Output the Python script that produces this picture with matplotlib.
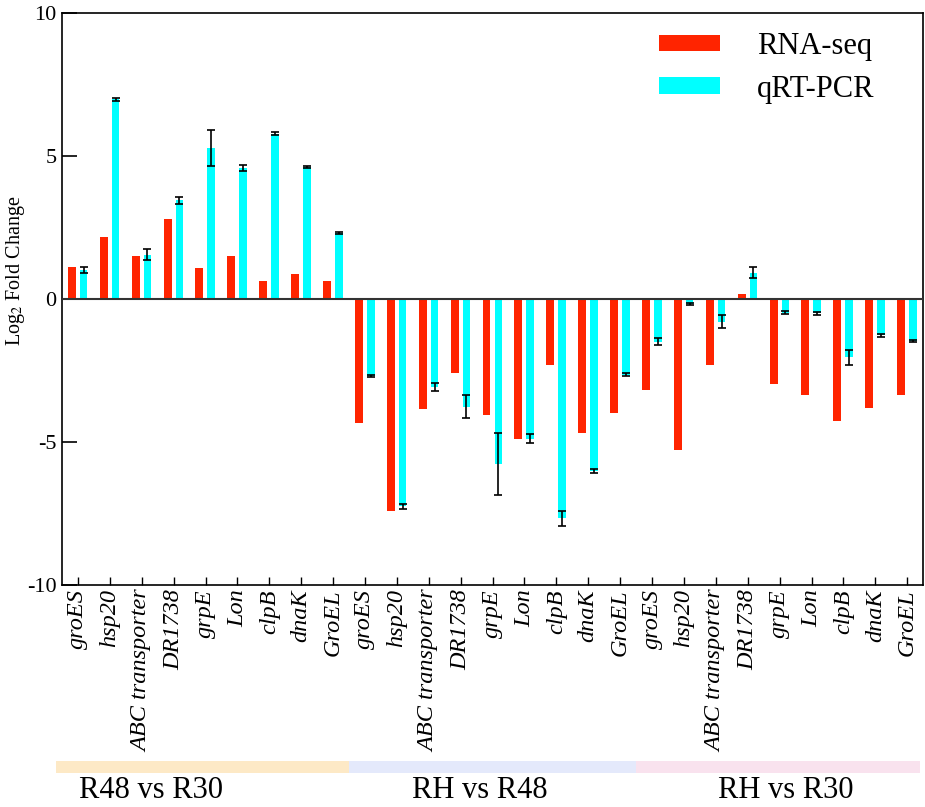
import matplotlib
matplotlib.use('Agg')
import matplotlib.pyplot as plt
import matplotlib.transforms as mtrans
from matplotlib.patches import Rectangle
import numpy as np

plt.rcParams['font.family'] = ['Liberation Serif', 'DejaVu Serif']
plt.rcParams['mathtext.fontset'] = 'stix'

genes = ['groES', 'hsp20', 'ABC transporter', 'DR1738', 'grpE', 'Lon', 'clpB', 'dnaK', 'GroEL']
groups = ['R48 vs R30', 'RH vs R48', 'RH vs R30']

# RNA-seq log2 fold change, per comparison
rna_r48_r30 = [1.13, 2.15, 1.51, 2.80, 1.07, 1.52, 0.63, 0.87, 0.63]
rna_rh_r48 = [-4.34, -7.41, -3.84, -2.59, -4.07, -4.88, -2.32, -4.68, -3.98]
rna_rh_r30 = [-3.19, -5.27, -2.32, 0.19, -2.98, -3.34, -4.26, -3.80, -3.34]

# qRT-PCR log2 fold change and error
pcr_r48_r30 = [1.01, 6.98, 1.55, 3.45, 5.27, 4.57, 5.78, 4.61, 2.31]
pcr_rh_r48 = [-2.70, -7.24, -3.07, -3.77, -5.76, -4.88, -7.66, -6.02, -2.64]
pcr_rh_r30 = [-1.49, -0.17, -0.80, 0.92, -0.48, -0.50, -2.03, -1.27, -1.47]
err_r48_r30 = [0.10, 0.05, 0.20, 0.13, 0.62, 0.10, 0.06, 0.04, 0.03]
err_rh_r48 = [0.03, 0.09, 0.13, 0.40, 1.09, 0.15, 0.26, 0.06, 0.04]
err_rh_r30 = [0.11, 0.04, 0.23, 0.20, 0.06, 0.06, 0.26, 0.05, 0.04]

rna = rna_r48_r30 + rna_rh_r48 + rna_rh_r30
pcr = pcr_r48_r30 + pcr_rh_r48 + pcr_rh_r30
err = err_r48_r30 + err_rh_r48 + err_rh_r30
labels = genes * 3

fig = plt.figure(figsize=(9.25, 8.07), dpi=100)
ax = fig.add_axes([0.067, 0.275, 0.931, 0.709])

x = np.arange(len(labels))
w = 0.25
ax.bar(x - 0.19, rna, w, color='#ff2400', label='RNA-seq', zorder=2)
ax.bar(x + 0.18, pcr, w * 0.95, color='#00ffff', label='qRT-PCR', zorder=2)
ax.errorbar(x + 0.18, pcr, yerr=err, fmt='none', ecolor='black',
            elinewidth=1.2, capsize=3, capthick=1.2, zorder=3)
ax.axhline(0, color='#333333', lw=1.5, zorder=4)

ax.set_xlim(-0.5, len(labels) - 0.5)
ax.set_ylim(-10, 10)
ax.set_yticks([-10, -5, 0, 5, 10])
ax.set_yticklabels(['-10', '-5', '0', '5', '10'], fontsize=16)
ax.set_xticks(x)
ax.set_xticklabels(labels, rotation=90, fontsize=17.5, style='italic')
ax.tick_params(axis='y', direction='in', length=11, width=1.2, pad=4)
ax.tick_params(axis='x', direction='in', length=6, width=1, pad=3)
ax.set_ylabel('Log$_2$ Fold Change', fontsize=14.5)
ax.yaxis.set_label_coords(-0.041, 0.55)
for s in ax.spines.values():
    s.set_linewidth(1.2)

ax.legend(frameon=False, fontsize=22, loc='upper right',
          bbox_to_anchor=(0.975, 1.015), handlelength=2.0, handleheight=0.45,
          handletextpad=1.2, labelspacing=0.45)

# comparison bands under the axis
tr = mtrans.blended_transform_factory(ax.transData, fig.transFigure)
band_colors = ['#fde9c6', '#e4e9fb', '#f9e2ee']
edges = [-0.69, 8.5, 17.5, 26.4]
text_x = [2.3, 12.6, 22.2]
for i, g in enumerate(groups):
    ax.add_patch(Rectangle((edges[i], 0.042), edges[i + 1] - edges[i], 0.015,
                           transform=tr, color=band_colors[i], clip_on=False, lw=0))
    ax.text(text_x[i], 0.021, g, transform=tr, fontsize=22,
            ha='center', va='center')

fig.savefig('out.png', dpi=100)
